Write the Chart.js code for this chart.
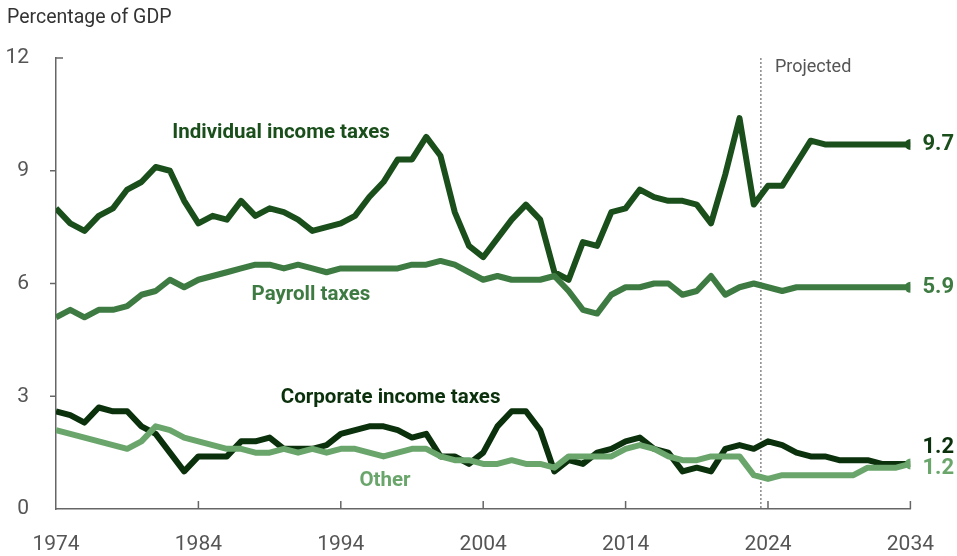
<!DOCTYPE html>
<html>
<head>
<meta charset="utf-8">
<script src="https://cdn.jsdelivr.net/npm/chart.js@4"></script>
<style>
  html, body { margin: 0; padding: 0; background: #fff; }
</style>
</head>
<body>
<canvas id="revenueChart" width="957" height="556"></canvas>
<script>
// Years 1974-2034 (actual through 2023, projected after)
const years = [];
for (let y = 1974; y <= 2034; y++) years.push(y);

const xTicks = [1974, 1984, 1994, 2004, 2014, 2024, 2034];
const yTicks = [0, 3, 6, 9, 12];

const individual = [8.0, 7.6, 7.4, 7.8, 8.0, 8.5, 8.7, 9.1, 9.0, 8.2,
    7.6, 7.8, 7.7, 8.2, 7.8, 8.0, 7.9, 7.7, 7.4, 7.5,
    7.6, 7.8, 8.3, 8.7, 9.3, 9.3, 9.9, 9.4, 7.9, 7.0,
    6.7, 7.2, 7.7, 8.1, 7.7, 6.3, 6.1, 7.1, 7.0, 7.9,
    8.0, 8.5, 8.3, 8.2, 8.2, 8.1, 7.6, 8.9, 10.4, 8.1,
    8.6, 8.6, 9.2, 9.8, 9.7, 9.7, 9.7, 9.7, 9.7, 9.7, 9.7];

const payroll = [5.1, 5.3, 5.1, 5.3, 5.3, 5.4, 5.7, 5.8, 6.1, 5.9,
    6.1, 6.2, 6.3, 6.4, 6.5, 6.5, 6.4, 6.5, 6.4, 6.3,
    6.4, 6.4, 6.4, 6.4, 6.4, 6.5, 6.5, 6.6, 6.5, 6.3,
    6.1, 6.2, 6.1, 6.1, 6.1, 6.2, 5.8, 5.3, 5.2, 5.7,
    5.9, 5.9, 6.0, 6.0, 5.7, 5.8, 6.2, 5.7, 5.9, 6.0,
    5.9, 5.8, 5.9, 5.9, 5.9, 5.9, 5.9, 5.9, 5.9, 5.9, 5.9];

const corporate = [2.6, 2.5, 2.3, 2.7, 2.6, 2.6, 2.2, 2.0, 1.5, 1.0,
    1.4, 1.4, 1.4, 1.8, 1.8, 1.9, 1.6, 1.6, 1.6, 1.7,
    2.0, 2.1, 2.2, 2.2, 2.1, 1.9, 2.0, 1.4, 1.4, 1.2,
    1.5, 2.2, 2.6, 2.6, 2.1, 1.0, 1.3, 1.2, 1.5, 1.6,
    1.8, 1.9, 1.6, 1.5, 1.0, 1.1, 1.0, 1.6, 1.7, 1.6,
    1.8, 1.7, 1.5, 1.4, 1.4, 1.3, 1.3, 1.3, 1.2, 1.2, 1.2];

const other = [2.1, 2.0, 1.9, 1.8, 1.7, 1.6, 1.8, 2.2, 2.1, 1.9,
    1.8, 1.7, 1.6, 1.6, 1.5, 1.5, 1.6, 1.5, 1.6, 1.5,
    1.6, 1.6, 1.5, 1.4, 1.5, 1.6, 1.6, 1.4, 1.3, 1.3,
    1.2, 1.2, 1.3, 1.2, 1.2, 1.1, 1.4, 1.4, 1.4, 1.4,
    1.6, 1.7, 1.6, 1.4, 1.3, 1.3, 1.4, 1.4, 1.4, 0.9,
    0.8, 0.9, 0.9, 0.9, 0.9, 0.9, 0.9, 1.1, 1.1, 1.1, 1.2];

const projectionStart = 2023.5;

const colors = {
    individual: '#1a4f1c',
    payroll: '#3e7b42',
    corporate: '#0a300c',
    other: '#6aa66c',
    text: '#555555',
    axis: '#666666'
};

const FONT = 'Roboto, "Open Sans", sans-serif';

// Series name labels, placed in data coordinates
const seriesLabels = [
    { text: 'Individual income taxes', x: 1989.8, y: 10.0, color: colors.individual },
    { text: 'Payroll taxes', x: 1991.9, y: 5.71, color: colors.payroll },
    { text: 'Corporate income taxes', x: 1997.5, y: 2.96, color: colors.corporate },
    { text: 'Other', x: 1997.1, y: 0.76, color: colors.other }
];

// End-of-line value labels (dy is a small pixel nudge to avoid overlap)
const endLabels = [
    { data: individual, color: colors.individual, dy: 0 },
    { data: payroll, color: colors.payroll, dy: 0 },
    { data: corporate, color: colors.corporate, dy: -16 },
    { data: other, color: colors.other, dy: 5 }
];

function toPoints(values) {
    return values.map((v, i) => ({ x: years[i], y: v }));
}

function endDot(ctx) {
    return ctx.dataIndex === years.length - 1 ? 5.5 : 0;
}

const annotations = {
    id: 'annotations',
    beforeDatasetsDraw(chart) {
        const { ctx, chartArea, scales } = chart;
        const xs = scales.x, ys = scales.y;
        ctx.save();
        // projection divider
        const px = xs.getPixelForValue(projectionStart);
        ctx.strokeStyle = '#777';
        ctx.lineWidth = 1.3;
        ctx.setLineDash([2, 2]);
        ctx.beginPath();
        ctx.moveTo(px, chartArea.top);
        ctx.lineTo(px, chartArea.bottom);
        ctx.stroke();
        ctx.setLineDash([]);

        // axis ticks
        ctx.strokeStyle = colors.axis;
        ctx.lineWidth = 1.5;
        xTicks.slice(1).forEach(t => {
            const x = xs.getPixelForValue(t);
            ctx.beginPath();
            ctx.moveTo(x, chartArea.bottom);
            ctx.lineTo(x, chartArea.bottom - 8);
            ctx.stroke();
        });
        yTicks.slice(1).forEach(t => {
            const y = ys.getPixelForValue(t);
            ctx.beginPath();
            if (t === 12) {
                ctx.moveTo(chartArea.left, y);
                ctx.lineTo(chartArea.left + 7, y);
            } else {
                ctx.moveTo(chartArea.left - 6, y);
                ctx.lineTo(chartArea.left, y);
            }
            ctx.stroke();
        });
        ctx.restore();
    },
    afterDraw(chart) {
        const { ctx, chartArea, scales } = chart;
        const xs = scales.x, ys = scales.y;
        ctx.save();
        // axis title
        ctx.fillStyle = '#333';
        ctx.font = '19.5px ' + FONT;
        ctx.textAlign = 'left';
        ctx.textBaseline = 'middle';
        ctx.fillText('Percentage of GDP', 7, 18);

        // projected label
        ctx.fillStyle = colors.text;
        ctx.font = '18px ' + FONT;
        ctx.fillText('Projected', xs.getPixelForValue(projectionStart) + 14, 67);

        // series names
        ctx.font = 'bold 20.5px ' + FONT;
        ctx.textAlign = 'center';
        seriesLabels.forEach(l => {
            ctx.fillStyle = l.color;
            ctx.fillText(l.text, xs.getPixelForValue(l.x), ys.getPixelForValue(l.y));
        });

        // end values
        ctx.font = 'bold 22px ' + FONT;
        ctx.textAlign = 'left';
        endLabels.forEach(l => {
            const v = l.data[l.data.length - 1];
            ctx.fillStyle = l.color;
            ctx.fillText(v.toFixed(1), chartArea.right + 12, ys.getPixelForValue(v) + l.dy);
        });
        ctx.restore();
    }
};

const lineStyle = {
    borderWidth: 6,
    tension: 0,
    borderJoinStyle: 'round',
    borderCapStyle: 'butt',
    pointHoverRadius: 0,
    pointBorderWidth: 0
};

new Chart(document.getElementById('revenueChart').getContext('2d'), {
    type: 'line',
    data: {
        datasets: [
            { label: 'Other', data: toPoints(other), borderColor: colors.other,
              pointBackgroundColor: colors.other, pointRadius: endDot, ...lineStyle },
            { label: 'Corporate income taxes', data: toPoints(corporate), borderColor: colors.corporate,
              pointRadius: 0, ...lineStyle },
            { label: 'Payroll taxes', data: toPoints(payroll), borderColor: colors.payroll,
              pointBackgroundColor: colors.payroll, pointRadius: endDot, ...lineStyle },
            { label: 'Individual income taxes', data: toPoints(individual), borderColor: colors.individual,
              pointBackgroundColor: colors.individual, pointRadius: endDot, ...lineStyle }
        ]
    },
    options: {
        responsive: false,
        animation: false,
        devicePixelRatio: 1,
        layout: { padding: { top: 58, right: 44, bottom: 0, left: 0 } },
        plugins: {
            legend: { display: false },
            title: { display: false },
            tooltip: { enabled: false }
        },
        scales: {
            x: {
                type: 'linear',
                min: 1974,
                max: 2034,
                afterFit: s => { s.height = 47; },
                afterBuildTicks: s => { s.ticks = xTicks.map(v => ({ value: v })); },
                grid: { display: false, drawTicks: false },
                border: { display: true, color: colors.axis, width: 1.5 },
                ticks: {
                    padding: 23,
                    color: colors.text,
                    font: { family: FONT, size: 21 },
                    maxRotation: 0,
                    autoSkip: false,
                    callback: v => String(v)
                }
            },
            y: {
                min: 0,
                max: 12,
                afterFit: s => { s.width = 56; },
                afterBuildTicks: s => { s.ticks = yTicks.map(v => ({ value: v })); },
                grid: { display: false, drawTicks: false },
                border: { display: true, color: colors.axis, width: 1.5 },
                ticks: {
                    padding: 27,
                    color: colors.text,
                    font: { family: FONT, size: 21 }
                }
            }
        }
    },
    plugins: [annotations]
});
</script>
</body>
</html>
